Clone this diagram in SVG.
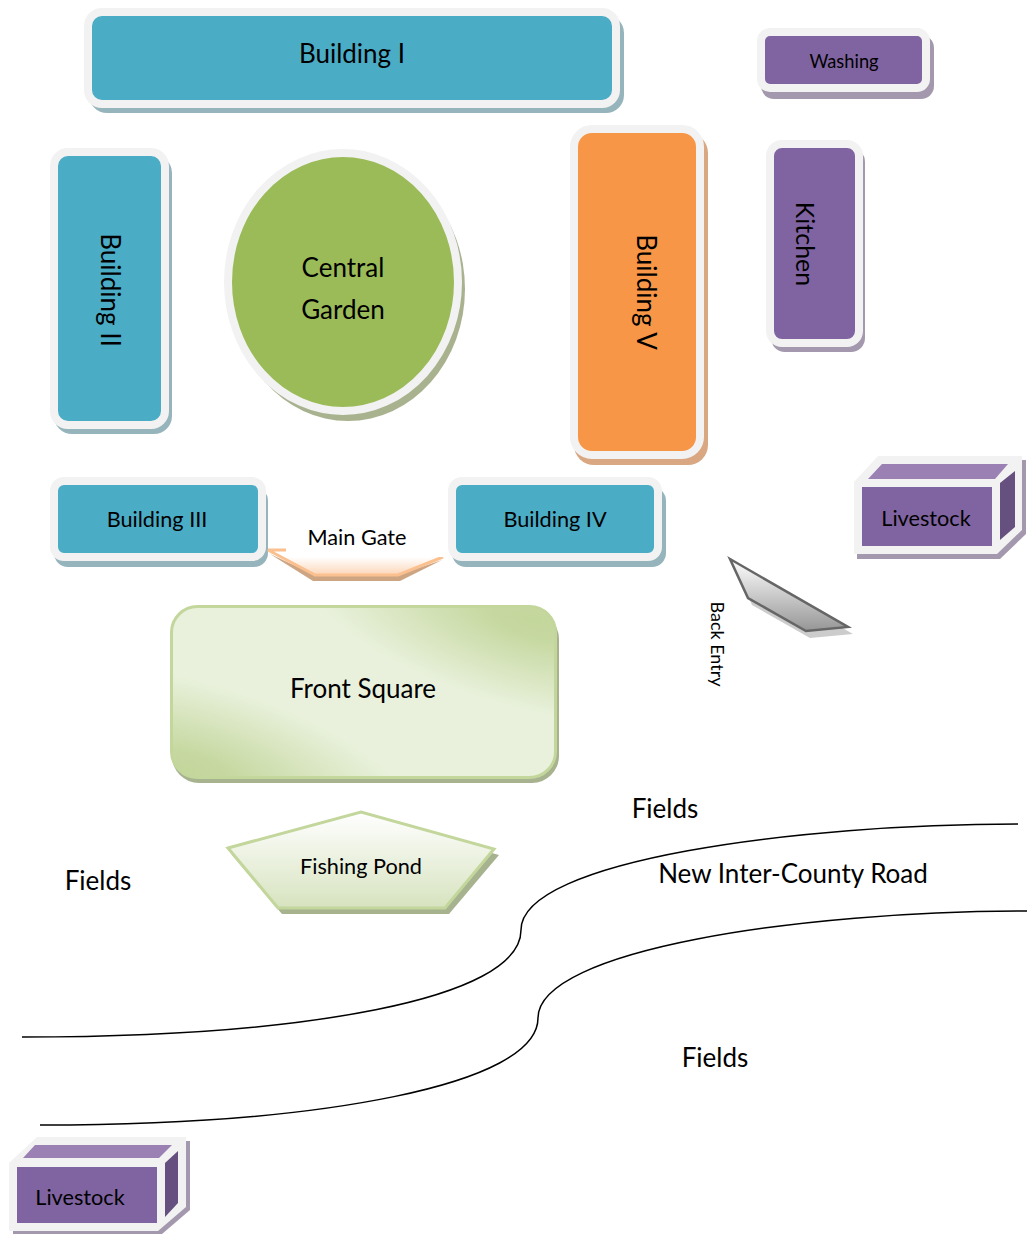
<svg xmlns="http://www.w3.org/2000/svg" width="1027" height="1234" viewBox="0 0 1027 1234">
<style>
text{font-family:"Lato","Liberation Sans",sans-serif;fill:#000;text-anchor:middle;dominant-baseline:central}
.t24{font-size:26px}.t22{font-size:25px}.t20{font-size:21.700px}.t18{font-size:18.300px}.t15{font-size:18px}
.f{stroke:#f2f2f2;stroke-width:8}
.blue{fill:#4bacc6}.sblue{fill:#96b4bc}
.purple{fill:#8064a2}.spurple{fill:#a398ad}
.road{fill:none;stroke:#000;stroke-width:1.5}
.sgreen{fill:#a7b28f}
.gs{stroke:#c3d69b;stroke-width:3}
</style>
<defs>
<linearGradient id="gate" gradientUnits="userSpaceOnUse" x1="0" y1="557" x2="0" y2="576"><stop offset="0" stop-color="#fff"/><stop offset="1" stop-color="#fbd4b4"/></linearGradient>
<linearGradient id="back" x1="0" y1="0" x2="0" y2="1"><stop offset="0" stop-color="#fff"/><stop offset="1" stop-color="#969696"/></linearGradient>
<linearGradient id="pond" x1="0" y1="0" x2="0" y2="1"><stop offset="0" stop-color="#fff"/><stop offset="1" stop-color="#d7e3bf"/></linearGradient>
<radialGradient id="sq" cx="0.5" cy="0.5" r="0.5"><stop offset="0" stop-color="#c3d69b"/><stop offset="0.2" stop-color="#c3d69b" stop-opacity="0.9"/><stop offset="1" stop-color="#c3d69b" stop-opacity="0"/></radialGradient>
<clipPath id="sqc"><rect x="171.500" y="606.500" width="384" height="171" rx="26"/></clipPath>
</defs>
<g id="connectors">
<path class="road" d="M1018 824C800 824 521 860 521 930C521 1000 300 1037 22 1037"/>
<path class="road" d="M1027 911C800 911 538 950 538 1018C538 1085 320 1125 40 1125"/>
</g>
<g id="building1">
<rect class="sblue" x="89" y="15" width="535" height="98" rx="18"/>
<rect class="blue f" x="88" y="12" width="528" height="92" rx="14"/>
<text class="t24" x="352" y="52.500">Building I</text>
</g>
<g id="washing">
<rect class="spurple" x="761" y="35" width="173" height="64" rx="13"/>
<rect class="purple f" x="761" y="32" width="165" height="56" rx="9"/>
<text class="t18" x="844" y="60.500">Washing</text>
</g>
<g id="building2">
<rect class="sblue" x="54" y="155" width="118" height="279" rx="18"/>
<rect class="blue f" x="54" y="152" width="111" height="273" rx="14"/>
<text class="t24" transform="translate(111 290) rotate(90)">Building II</text>
</g>
<g id="garden">
<ellipse cx="348" cy="289" rx="117" ry="132" fill="#a9b28f"/>
<ellipse class="f" cx="343" cy="282" rx="115" ry="129" fill="#9bbb59"/>
<text class="t24" x="343" y="267">Central</text>
<text class="t24" x="343" y="309">Garden</text>
</g>
<g id="building5">
<rect x="574" y="133" width="134" height="332" rx="20" fill="#d9a882"/>
<rect class="f" x="574" y="129" width="126" height="326" rx="18" fill="#f79646"/>
<text class="t24" transform="translate(647 292) rotate(90)">Building V</text>
</g>
<g id="kitchen">
<rect class="spurple" x="771" y="148" width="94" height="204" rx="14"/>
<rect class="purple f" x="770" y="144" width="89" height="199" rx="12"/>
<text class="t22" transform="translate(806 244) rotate(90)">Kitchen</text>
</g>
<g id="building3">
<rect class="sblue" x="54" y="487" width="214" height="80" rx="14"/>
<rect class="blue f" x="54" y="481" width="208" height="76" rx="10"/>
<text class="t20" x="157" y="519">Building III</text>
</g>
<g id="building4">
<rect class="sblue" x="452" y="487" width="214" height="80" rx="14"/>
<rect class="blue f" x="452" y="481" width="206" height="76" rx="10"/>
<text class="t20" x="555" y="519">Building IV</text>
</g>
<g id="gate-shape">
<polygon points="270,554 313,581 400,581 442,560 398,575 315,575" fill="#cda582"/>
<polygon points="269,551 286,557 443,557 398,575 315,575" fill="url(#gate)"/>
<polyline points="286,550 268,550 315,575 398,575 443,557" fill="none" stroke="#fbc090" stroke-width="3"/>
<rect x="286" y="551.500" width="160" height="5.500" fill="#fff"/>
<text class="t20" x="357" y="537">Main Gate</text>
</g>
<g id="livestock1">
<polygon class="spurple" points="857,485 881,460 1026,460 1026,534 1000,559 857,559"/>
<polygon fill="#f2f2f2" points="854,482 878,456 1022,456 1022,530 997,554 854,554"/>
<rect class="purple" x="862" y="487" width="130" height="59"/>
<polygon fill="#9a80b3" points="868,479 882,464 1008,464 995,479"/>
<polygon fill="#66507f" points="1000,483 1015,471 1015,527 1000,540"/>
<text class="t20" x="926" y="518">Livestock</text>
</g>
<g id="back-entry">
<polygon points="734,566 853,634 810,638 752,605" fill="#ccc"/>
<polygon points="730,559 848,627 806,631 748,598" fill="url(#back)" stroke="#666" stroke-width="2.500"/>
<text class="t15" transform="translate(718 644) rotate(90)">Back Entry</text>
</g>
<g id="front-square">
<rect class="sgreen" x="172" y="612" width="387" height="171" rx="27"/>
<rect x="171.500" y="606.500" width="384" height="171" rx="26" fill="#e9f1dc"/>
<g clip-path="url(#sqc)">
<ellipse cx="535" cy="620" rx="240" ry="90" fill="url(#sq)" transform="rotate(15 535 620)"/>
<ellipse cx="185" cy="770" rx="240" ry="90" fill="url(#sq)" transform="rotate(15 185 770)"/>
</g>
<rect class="gs" x="171.500" y="606.500" width="384" height="171" rx="26" fill="none"/>
<text class="t24" x="363" y="688">Front Square</text>
</g>
<g id="fishing-pond">
<polygon class="sgreen" points="232,855 365,818 499,855 449,914 282,914"/>
<polygon class="gs" points="228,848 361,812 494,849 445,908 278,908" fill="url(#pond)"/>
<text class="t20" x="361" y="866">Fishing Pond</text>
</g>
<g id="labels">
<text class="t24" x="665" y="808">Fields</text>
<text class="t24" x="98" y="880">Fields</text>
<text class="t24" x="715" y="1057">Fields</text>
<text class="t24" x="793" y="873">New Inter-County Road</text>
</g>
<g id="livestock2">
<polygon class="spurple" points="13,1167 41,1141 190,1141 190,1210 162,1234 13,1234"/>
<polygon fill="#f2f2f2" points="9,1163 37,1137 186,1137 186,1207 158,1231 9,1231"/>
<rect class="purple" x="17" y="1167" width="140" height="56"/>
<polygon fill="#9a80b3" points="23,1158 35,1145 172,1145 159,1158"/>
<polygon fill="#66507f" points="165,1163 178,1151 178,1203 165,1217"/>
<text class="t20" x="80" y="1197">Livestock</text>
</g>
</svg>
